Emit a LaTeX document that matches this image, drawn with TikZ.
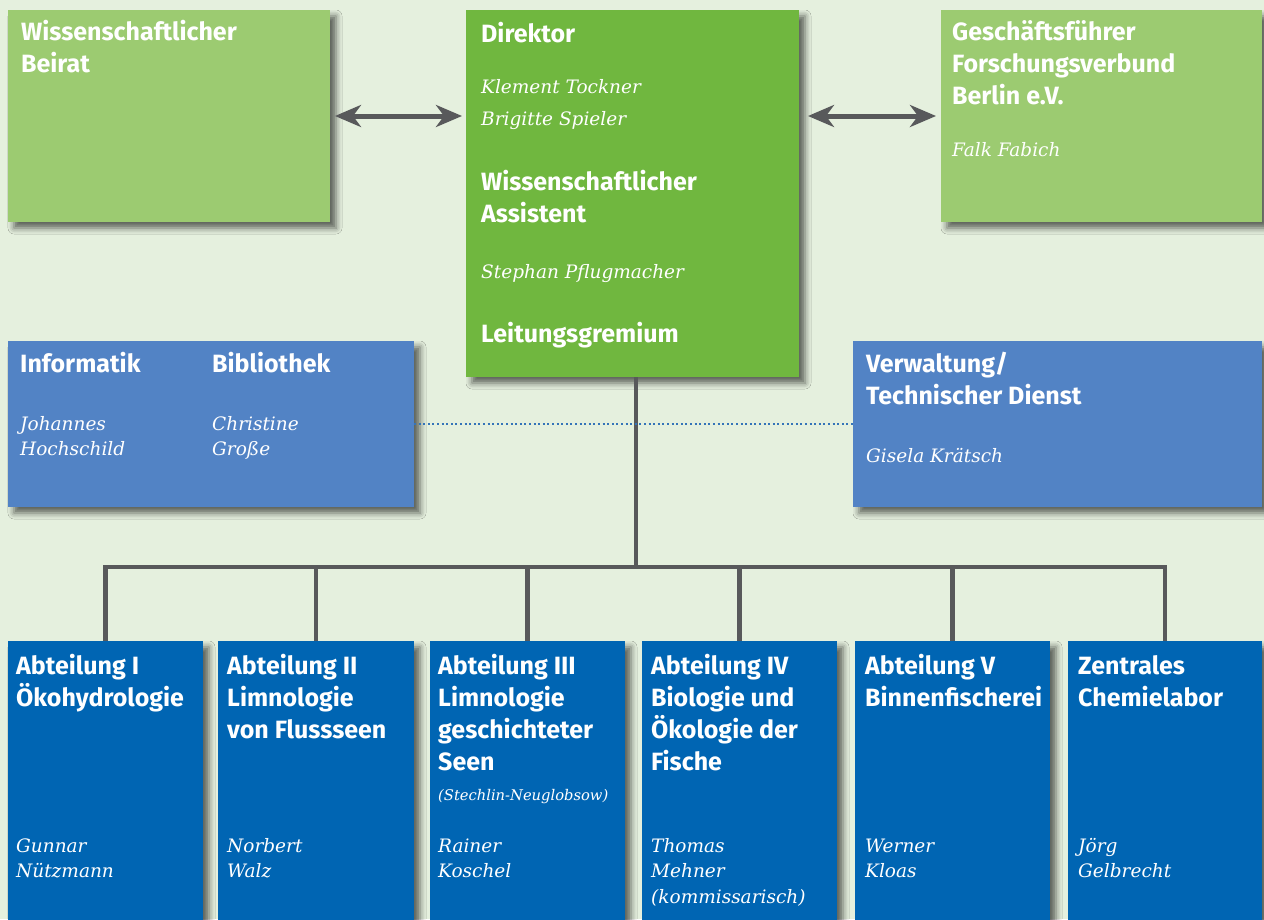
\documentclass[tikz,border=0pt]{standalone}
\usepackage{fontspec}
\setmainfont{Fira Sans}
\newfontfamily\nmfont{DejaVu Serif}
\usetikzlibrary{arrows.meta,shadows.blur}
\definecolor{bg}{HTML}{E5F0DE}
\definecolor{lgreen}{HTML}{9CCB71}
\definecolor{dgreen}{HTML}{70B73F}
\definecolor{mblue}{HTML}{5283C5}
\definecolor{dblue}{HTML}{0065B3}
\definecolor{lines}{HTML}{58595B}
\definecolor{dots}{HTML}{3474B8}
\newcommand\tb[1]{\begin{tabular}[t]{@{}l@{}}#1\end{tabular}}
\tikzset{
  box/.style={rectangle, draw=none, inner sep=0pt, outer sep=0pt,
    blur shadow={shadow xshift=6pt, shadow yshift=-6pt, shadow blur radius=6pt, shadow opacity=60}},
  hd/.style={font=\fontsize{25}{32}\selectfont\bfseries, text=white, inner sep=0pt, anchor=base west},
  nm/.style={font=\nmfont\fontsize{18.5}{25.5}\selectfont\itshape, text=white, inner sep=0pt, anchor=base west},
  nmw/.style={nm, font=\nmfont\fontsize{18.5}{32}\selectfont\itshape},
  sm/.style={nm, font=\nmfont\fontsize{14.7}{20}\selectfont\itshape},
  arr/.style={draw=lines, line width=5pt, {Stealth[length=26pt,width=22pt,inset=8pt]}-{Stealth[length=26pt,width=22pt,inset=8pt]}},
  tree/.style={draw=lines, line width=4.5pt},
}
\begin{document}
\begin{tikzpicture}[x=1pt,y=-1pt]
\useasboundingbox (0,0) rectangle (1264,919);
\fill[bg] (0,0) rectangle (1264,919);
% boxes
\node[box, fill=lgreen, minimum width=322pt, minimum height=212pt] (beirat) at (169,116) {};
\node[box, fill=dgreen, minimum width=333pt, minimum height=367pt] (dir) at (632.5,193.5) {};
\node[box, fill=lgreen, minimum width=321pt, minimum height=212pt] (gf) at (1101.5,116) {};
\node[box, fill=mblue, minimum width=406pt, minimum height=166pt] (info) at (211,424) {};
\node[box, fill=mblue, minimum width=409pt, minimum height=166pt] (verw) at (1057.5,424) {};
\foreach \n/\cx/\w in {b1/105.5/195, b2/316/196, b3/527.5/195, b4/739.5/195, b5/952.5/195, b6/1165/194}
  \node[box, fill=dblue, minimum width=\w pt, minimum height=290pt] (\n) at (\cx,786) {};
% arrows
\draw[arr, shorten <=5pt, shorten >=4pt] (beirat.east) -- (dir.west |- beirat.east);
\draw[arr, shorten <=9pt, shorten >=5pt] (dir.east |- gf.west) -- (gf.west);
% tree
\coordinate (hub) at (636,567);
\draw[tree] (hub |- dir.south) -- (hub);
\draw[tree, line cap=rect] (b1.north |- hub) -- (b6.north |- hub);
\foreach \n in {b1,b2,b3,b4,b5,b6}
  \draw[tree] (\n.north |- hub) -- (\n.north);
% dotted
\draw[dots, line width=2pt, dash pattern=on 2pt off 2.6pt] (info.east) -- (verw.west);
% texts
\node[hd] (tbeirat) at (21,40) {\tb{Wissenschaftlicher\\Beirat}};
\node[hd] (tdir) at (481,42) {Direktor};
\node[nmw] (ndir) at (481,93) {\tb{Klement Tockner\\Brigitte Spieler}};
\node[hd] (tass) at (481,190) {\tb{Wissenschaftlicher\\Assistent}};
\node[nm] (nass) at (481,278) {Stephan Pflugmacher};
\node[hd] (tleit) at (481,342) {Leitungsgremium};
\node[hd] (tgf) at (952,40) {\tb{Geschäftsführer\\Forschungsverbund\\Berlin e.V.}};
\node[nm] (ngf) at (952,156) {Falk Fabich};
\node[hd] (tinfo) at (20,372) {Informatik};
\node[hd] (tbib) at (212,372) {Bibliothek};
\node[nm] (ninfo) at (20,430) {\tb{Johannes\\Hochschild}};
\node[nm] (nbib) at (212,430) {\tb{Christine\\Große}};
\node[hd] (tverw) at (866,372) {\tb{Verwaltung/\\Technischer Dienst}};
\node[nm] (nverw) at (866,462) {Gisela Krätsch};
\node[hd] (tb1) at (16,674) {\tb{Abteilung I\\Ökohydrologie}};
\node[hd] (tb2) at (227,674) {\tb{Abteilung II\\Limnologie\\von Flussseen}};
\node[hd] (tb3) at (438,674) {\tb{Abteilung III\\Limnologie\\geschichteter\\Seen}};
\node[hd] (tb4) at (651,674) {\tb{Abteilung IV\\Biologie und\\Ökologie der\\Fische}};
\node[hd] (tb5) at (865,674) {\tb{Abteilung V\\Binnenfischerei}};
\node[hd] (tb6) at (1078,674) {\tb{Zentrales\\Chemielabor}};
\node[sm] (sb3) at (438,800) {(Stechlin-Neuglobsow)};
\node[nm] (nb1) at (16,852) {\tb{Gunnar\\Nützmann}};
\node[nm] (nb2) at (227,852) {\tb{Norbert\\Walz}};
\node[nm] (nb3) at (438,852) {\tb{Rainer\\Koschel}};
\node[nm] (nb4) at (651,852) {\tb{Thomas\\Mehner\\(kommissarisch)}};
\node[nm] (nb5) at (865,852) {\tb{Werner\\Kloas}};
\node[nm] (nb6) at (1078,852) {\tb{Jörg\\Gelbrecht}};
\end{tikzpicture}
\end{document}
